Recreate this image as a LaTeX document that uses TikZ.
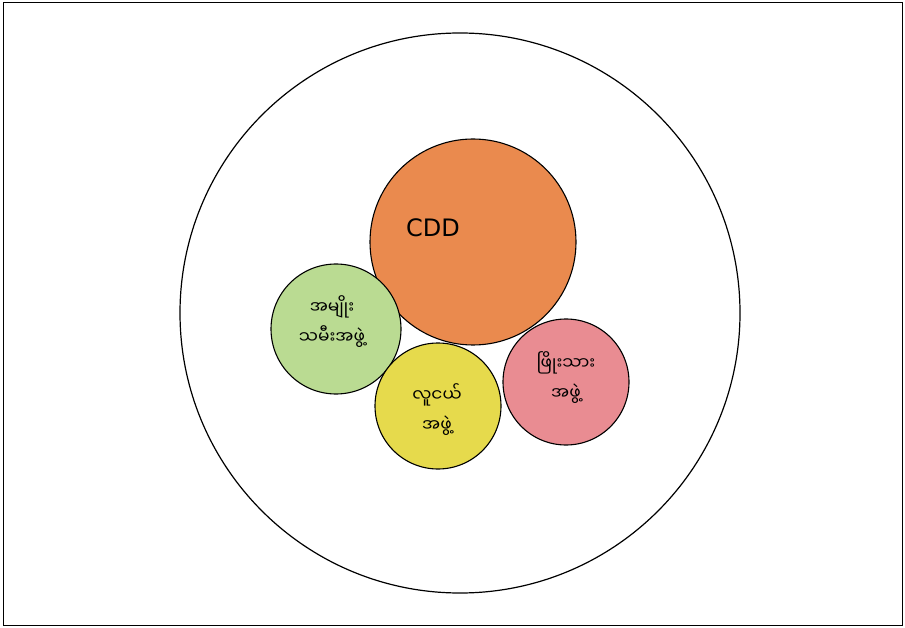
\documentclass[tikz,border=0pt]{standalone}
\usepackage{fontspec}
\newfontfamily\mmfont[Script=Myanmar]{Noto Sans Myanmar UI}
\setsansfont{DejaVu Sans}
\definecolor{orangefill}{HTML}{EA8A4E}
\definecolor{greenfill}{HTML}{BADB92}
\definecolor{yellowfill}{HTML}{E6DA4C}
\definecolor{redfill}{HTML}{E98C92}
\tikzset{
  group/.style={circle, draw=black, line width=1.1pt, inner sep=0pt},
  mmtext/.style={font=\mmfont\fontsize{17}{30}\selectfont, align=center, text=black},
}
\begin{document}
\begin{tikzpicture}[x=1pt,y=-1pt]
\useasboundingbox (0,0) rectangle (905,628);
\node[draw=black, line width=1pt, minimum width=899pt, minimum height=622pt, inner sep=0pt] (frame) at (452.5,314) {};
\node[group, minimum size=560pt, line width=1.2pt] (outer) at (460,313) {};
\node[group, fill=orangefill, minimum size=206pt] (cdd) at (473,242) {};
\node[group, fill=greenfill, minimum size=130pt] (women) at (336,329) {};
\node[group, fill=yellowfill, minimum size=126pt] (youth) at (438,406) {};
\node[group, fill=redfill, minimum size=126pt] (elders) at (566,382) {};
\node[font=\sffamily\fontsize{24}{28}\selectfont] (cddlabel) at (433,228) {CDD};
\node[mmtext] (womenlabel) at (332,322) {အမျိုး\\သမီးအဖွဲ့};
\node[mmtext] (youthlabel) at (437,410) {လူငယ်\\အဖွဲ့};
\node[mmtext] (elderslabel) at (566,378) {ဖြိုးသား\\အဖွဲ့};
\end{tikzpicture}
\end{document}
